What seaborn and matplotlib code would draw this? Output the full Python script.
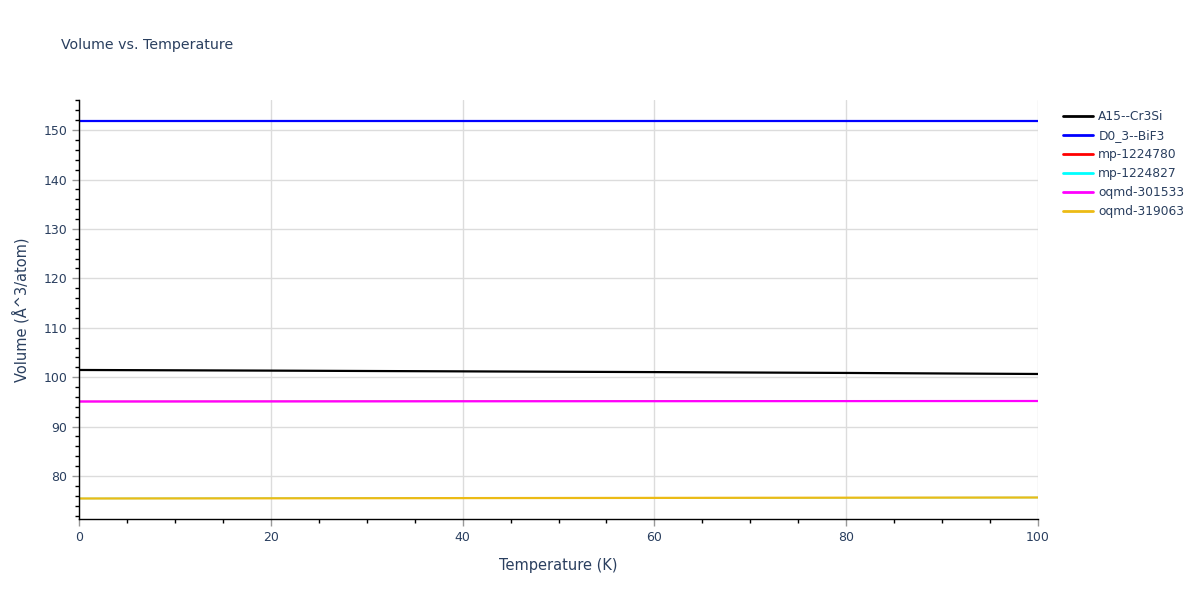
import numpy as np
import pandas as pd
import matplotlib.pyplot as plt
from matplotlib.lines import Line2D
from matplotlib.ticker import MultipleLocator
import seaborn as sns

# Temperature grid and volumes
temperature = [0, 20, 40, 60, 80, 100]
a15_cr3si = [101.46, 101.33, 101.18, 101.03, 100.86, 100.65]
d03_bif3 = [151.85, 151.85, 151.85, 151.85, 151.85, 151.85]
mp_1224780 = [95.08, 95.10, 95.12, 95.14, 95.16, 95.18]
mp_1224827 = [75.45, 75.49, 75.53, 75.57, 75.61, 75.65]
oqmd_301533 = [95.08, 95.10, 95.12, 95.14, 95.16, 95.18]
oqmd_319063 = [75.45, 75.49, 75.53, 75.57, 75.61, 75.65]

names = ['A15--Cr3Si', 'D0_3--BiF3', 'mp-1224780', 'mp-1224827', 'oqmd-301533', 'oqmd-319063']
series = [a15_cr3si, d03_bif3, mp_1224780, mp_1224827, oqmd_301533, oqmd_319063]
colors = ['black', 'blue', 'red', 'cyan', 'magenta', '#ecbb15']

df = pd.concat([pd.DataFrame({'Temperature': temperature, 'Volume': v, 'phase': n})
                for n, v in zip(names, series)], ignore_index=True)

text_col = '#2a3f5f'
sns.set_style('white')
plt.rcParams['font.family'] = ['DejaVu Sans']

fig = plt.figure(figsize=(12, 6), dpi=100)
ax = fig.add_axes([79 / 1200, 1 - 519 / 600, (1038 - 79) / 1200, (519 - 100) / 600])

sns.lineplot(data=df, x='Temperature', y='Volume', hue='phase', hue_order=names,
             palette=dict(zip(names, colors)), linewidth=1.6, ax=ax, legend=False,
             estimator=None, sort=False)
# the two mp- traces sit underneath the oqmd ones; keep them a touch thinner
for ln, n in zip(ax.get_lines(), names):
    if n.startswith('mp-'):
        ln.set_linewidth(1.0)

ax.set_xlim(0, 100)
ax.set_ylim(71.3, 156.1)
ax.xaxis.set_major_locator(MultipleLocator(20))
ax.xaxis.set_minor_locator(MultipleLocator(5))
ax.yaxis.set_major_locator(MultipleLocator(10))
ax.yaxis.set_minor_locator(MultipleLocator(2))
ax.grid(True, which='major', color='#dcdcdc', linewidth=1)
ax.set_axisbelow(True)

for s in ['top', 'right']:
    ax.spines[s].set_visible(False)
for s in ['left', 'bottom']:
    ax.spines[s].set_color('black')
    ax.spines[s].set_linewidth(1)

ax.tick_params(which='major', direction='out', length=5, width=1, color='#999999',
               labelcolor=text_col, labelsize=9, left=True, bottom=True)
ax.tick_params(which='minor', direction='out', length=3, width=1, color='black',
               left=True, bottom=True)

ax.set_xlabel('Temperature (K)', color=text_col, fontsize=10.5, labelpad=10)
ax.set_ylabel('Volume (Å^3/atom)', color=text_col, fontsize=10.5, labelpad=10)

fig.text(61 / 1200, 1 - 45 / 600, 'Volume vs. Temperature', color=text_col,
         fontsize=10.2, va='center', ha='left')

handles = [Line2D([0], [0], color=c, lw=2) for c in colors]
leg = fig.legend(handles, names, loc='upper left', bbox_to_anchor=(1058 / 1200, 1 - 105 / 600),
                 frameon=False, fontsize=8.8, handlelength=2.5, labelspacing=0.5,
                 handletextpad=0.4, borderaxespad=0)
for t in leg.get_texts():
    t.set_color(text_col)

fig.savefig('out.png', dpi=100)
